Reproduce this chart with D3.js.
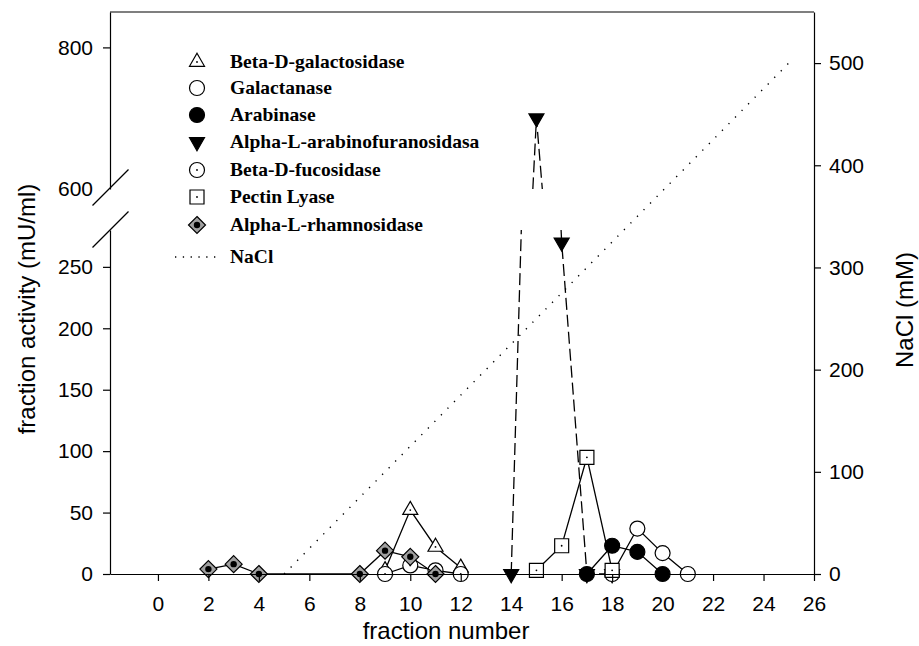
<!DOCTYPE html>
<html>
<head>
<meta charset="utf-8">
<script src="https://cdn.jsdelivr.net/npm/d3@7"></script>
<style>
  body { margin: 0; background: #fff; }
  svg { display: block; }
  .axis text { font-family: Arial, "Liberation Sans", sans-serif; font-size: 21px; fill: #000; }
  .axis .domain, .axis .tick line { stroke: #000; stroke-width: 1.2; }
  .title { font-family: Arial, "Liberation Sans", sans-serif; font-size: 24px; fill: #000; }
  .legend text { font-family: "Times New Roman", "Liberation Serif", serif; font-weight: bold; font-size: 19.5px; fill: #000; }
</style>
</head>
<body>
<div id="chart"></div>
<script>
// fraction numbers and activities (mU/ml)
const betaGalX = [9, 10, 11, 12];
const betaGalY = [3, 52, 22, 5];
const galactanaseX = [18, 19, 20, 21];
const galactanaseY = [0, 37, 17, 0];
const arabinaseX = [17, 18, 19, 20];
const arabinaseY = [0, 23, 18, 0];
const arabinofuranX = [14, 15, 16, 17, 18];
const arabinofuranY = [0, 700, 270, 0, 0];
const fucosidaseX = [9, 10, 11, 12];
const fucosidaseY = [0, 7, 3, 0];
const pectinX = [15, 16, 17, 18];
const pectinY = [3, 23, 95, 3];
const rhamnX = [2, 3, 4, 8, 9, 10, 11];
const rhamnY = [4, 8, 0, 0, 19, 14, 0];
// NaCl gradient (mM)
const naclX = [5, 25];
const naclY = [0, 500];

const xTicks = [0, 2, 4, 6, 8, 10, 12, 14, 16, 18, 20, 22, 24, 26];
const yLowTicks = [0, 50, 100, 150, 200, 250];
const yHighTicks = [600, 800];
const naclTicks = [0, 100, 200, 300, 400, 500];

const width = 919, height = 646;
const m = { left: 110, right: 814, top: 12, bottom: 574 };
const lowTop = 230, highBottom = 189; // axis break

const x = d3.scaleLinear().domain([-1.9, 26]).range([m.left, m.right]);
const yLow = d3.scaleLinear().domain([0, 280]).range([m.bottom, lowTop]);
const yHigh = d3.scaleLinear().domain([600, 850]).range([highBottom, m.top]);
const yNaCl = d3.scaleLinear().domain([0, 550]).range([m.bottom, m.top]);
const yAny = v => v >= 600 ? yHigh(v) : yLow(v);

const svg = d3.select('#chart').append('svg')
    .attr('width', width)
    .attr('height', height);

const defs = svg.append('defs');
defs.append('clipPath').attr('id', 'clipLow')
    .append('rect').attr('x', m.left - 20).attr('y', lowTop)
    .attr('width', m.right - m.left + 40).attr('height', m.bottom - lowTop + 10);
defs.append('clipPath').attr('id', 'clipHigh')
    .append('rect').attr('x', m.left - 20).attr('y', m.top)
    .attr('width', m.right - m.left + 40).attr('height', highBottom - m.top);

// marker shapes
const symbols = {
    triUp: 'M0,-8.7L7.5,4.3L-7.5,4.3Z',
    triDown: 'M0,8.7L7.5,-4.3L-7.5,-4.3Z',
    circle: d3.symbol(d3.symbolCircle, Math.PI * 7.5 * 7.5)(),
    square: 'M-7,-7H7V7H-7Z',
    diamond: 'M0,-8.5L8.5,0L0,8.5L-8.5,0Z'
};

const series = [
    { name: 'Alpha-L-arabinofuranosidasa', xs: arabinofuranX, ys: arabinofuranY, sym: 'triDown', fill: '#000', dash: '12,5', dot: 0, legendRow: 3 },
    { name: 'Beta-D-galactosidase', xs: betaGalX, ys: betaGalY, sym: 'triUp', fill: '#fff', dash: null, dot: 0.9, legendRow: 0 },
    { name: 'Galactanase', xs: galactanaseX, ys: galactanaseY, sym: 'circle', fill: '#fff', dash: null, dot: 0, legendRow: 1 },
    { name: 'Arabinase', xs: arabinaseX, ys: arabinaseY, sym: 'circle', fill: '#000', dash: null, dot: 0, legendRow: 2 },
    { name: 'Beta-D-fucosidase', xs: fucosidaseX, ys: fucosidaseY, sym: 'circle', fill: '#fff', dash: null, dot: 0.9, legendRow: 4 },
    { name: 'Pectin Lyase', xs: pectinX, ys: pectinY, sym: 'square', fill: '#fff', dash: null, dot: 0.9, legendRow: 5 },
    { name: 'Alpha-L-rhamnosidase', xs: rhamnX, ys: rhamnY, sym: 'diamond', fill: '#a0a0a0', dash: null, dot: 3.2, legendRow: 6 }
];

// NaCl gradient on the right axis
svg.append('path')
    .datum(naclX.map((v, i) => [v, naclY[i]]))
    .attr('fill', 'none')
    .attr('stroke', '#000')
    .attr('stroke-width', 1.4)
    .attr('stroke-dasharray', '1.3,8')
    .attr('d', d3.line().x(d => x(d[0])).y(d => yNaCl(d[1])));

function drawMarker(g, s, cx, cy) {
    g.append('path')
        .attr('transform', `translate(${cx},${cy})`)
        .attr('d', symbols[s.sym])
        .attr('fill', s.fill)
        .attr('stroke', '#000')
        .attr('stroke-width', 1.2);
    if (s.dot) {
        g.append('circle').attr('cx', cx).attr('cy', cy).attr('r', s.dot).attr('fill', '#000');
    }
}

series.forEach(s => {
    const pts = s.xs.map((v, i) => [v, s.ys[i]]);
    const g = svg.append('g');
    // line drawn once per axis segment, each clipped to its own band
    [['clipLow', yLow], ['clipHigh', yHigh]].forEach(([clip, ys]) => {
        g.append('path')
            .datum(pts)
            .attr('clip-path', `url(#${clip})`)
            .attr('fill', 'none')
            .attr('stroke', '#000')
            .attr('stroke-width', 1.3)
            .attr('stroke-dasharray', s.dash)
            .attr('d', d3.line().x(d => x(d[0])).y(d => ys(d[1])));
    });
    pts.forEach(p => drawMarker(g, s, x(p[0]), yAny(p[1])));
});

// axes
const xAxis = d3.axisBottom(x).tickValues(xTicks).tickSize(7).tickPadding(15).tickSizeOuter(0);
svg.append('g').attr('class', 'axis').attr('transform', `translate(0,${m.bottom})`).call(xAxis);

const yLowAxis = d3.axisLeft(yLow).tickValues(yLowTicks).tickSize(7).tickPadding(10).tickSizeOuter(0);
svg.append('g').attr('class', 'axis').attr('transform', `translate(${m.left},0)`).call(yLowAxis);

const yHighAxis = d3.axisLeft(yHigh).tickValues(yHighTicks).tickSize(7).tickPadding(10).tickSizeOuter(0);
const hi = svg.append('g').attr('class', 'axis').attr('transform', `translate(${m.left},0)`).call(yHighAxis);
hi.selectAll('.tick').filter(d => d === 600).select('line').remove();

const naclAxis = d3.axisRight(yNaCl).tickValues(naclTicks).tickSize(7).tickPadding(8).tickSizeOuter(0);
svg.append('g').attr('class', 'axis').attr('transform', `translate(${m.right},0)`).call(naclAxis);

svg.append('line')
    .attr('x1', m.left).attr('x2', m.right).attr('y1', m.top).attr('y2', m.top)
    .attr('stroke', '#000').attr('stroke-width', 1.2);

// break marks
[highBottom - 1, lowTop].forEach(by => {
    svg.append('line')
        .attr('x1', m.left - 17.5).attr('y1', by + 17.5)
        .attr('x2', m.left + 18.5).attr('y2', by - 18.5)
        .attr('stroke', '#000').attr('stroke-width', 1.2);
});

// axis titles
svg.append('text').attr('class', 'title')
    .attr('x', 446).attr('y', 639).attr('text-anchor', 'middle')
    .text('fraction number');
svg.append('text').attr('class', 'title')
    .attr('transform', 'translate(35,309) rotate(-90)').attr('text-anchor', 'middle')
    .text('fraction activity (mU/ml)');
svg.append('text').attr('class', 'title')
    .attr('transform', 'translate(913,310) rotate(-90)').attr('text-anchor', 'middle')
    .text('NaCl (mM)');

// legend
const rowY = [62, 88, 115, 142, 170, 197, 225, 257];
const legend = svg.append('g').attr('class', 'legend');
series.forEach(s => {
    const cy = rowY[s.legendRow];
    drawMarker(legend, s, 197, cy);
    legend.append('text').attr('x', 230).attr('y', cy).attr('dy', '0.33em').text(s.name);
});
legend.append('line')
    .attr('x1', 175).attr('x2', 217).attr('y1', rowY[7]).attr('y2', rowY[7])
    .attr('stroke', '#000').attr('stroke-width', 1.4).attr('stroke-dasharray', '1.3,6.5');
legend.append('text').attr('x', 230).attr('y', rowY[7]).attr('dy', '0.33em').text('NaCl');
</script>
</body>
</html>
